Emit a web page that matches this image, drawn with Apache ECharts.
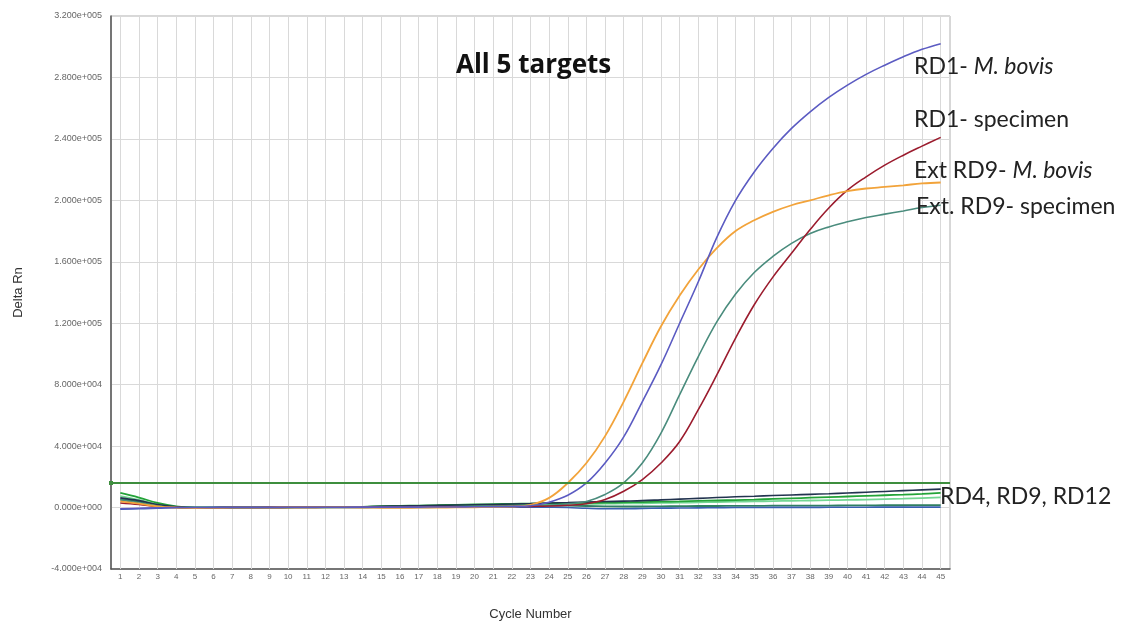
<!DOCTYPE html>
<html>
<head>
<meta charset="utf-8">
<script src="https://cdn.jsdelivr.net/npm/echarts@6/dist/echarts.min.js"></script>
<style>html,body{margin:0;padding:0;background:#fff}#c{width:1124px;height:625px}</style>
</head>
<body>
<div id="c"></div>
<script>
const cycles = Array.from({length: 45}, (_, i) => String(i + 1));
const yTicksMin = -40000, yTicksMax = 320000, yStep = 40000;
const threshold = 16000;

const rd1Bovis = [-800,-500,-200,0,0,100,100,100,100,200,
  200,200,200,300,300,300,300,400,400,500,
  500,700,1200,3500,8000,16000,29000,46000,69000,93000,
  120000,147000,176000,200000,218500,233800,246800,257600,267000,275000,
  282000,288000,293500,298300,302000];
const ext9Bovis = [4000,2500,800,0,-300,-200,-100,0,0,100,
  100,100,100,0,-200,-200,-100,0,100,200,
  300,600,1800,6300,16000,29000,46500,69000,94000,118000,
  138000,155000,169000,180000,187000,192500,196800,200000,203300,206000,
  207700,208700,209800,211000,211600];
const rd1Spec = [3000,2000,600,0,-200,-100,0,0,100,100,
  100,200,200,200,300,300,400,400,500,500,
  600,700,800,1000,1500,2500,5200,10600,18200,29000,
  43000,63700,86500,110300,132000,150000,165500,181000,195000,206600,
  215300,222900,229400,235300,241000];
const ext9Spec = [5000,3000,1000,0,-200,-100,0,100,100,200,
  200,200,300,300,400,400,500,500,600,700,
  800,900,1100,1500,2500,4000,8500,16000,29000,48500,
  73500,98300,121000,139000,153000,163500,172000,178400,182700,186000,
  188800,191000,193100,195300,196800];
const lowNavy = [6300,4500,2000,500,0,0,100,100,100,200,
  200,300,300,400,800,1000,1200,1400,1600,1800,
  2000,2300,2600,3000,3300,3600,3900,4200,4500,5000,
  5500,6000,6500,7000,7400,7800,8200,8600,9000,9500,
  10000,10500,11000,11500,12000];
const lowGreen = [9500,6500,3000,800,0,0,100,100,100,200,
  300,300,400,500,900,1100,1300,1500,1800,2000,
  2200,2400,2600,2800,3000,3100,3200,3400,3600,3800,
  4000,4300,4600,4900,5200,5600,6000,6400,6800,7200,
  7600,8000,8400,8900,9500];
const lowLight = [7500,5000,2200,500,0,0,0,100,100,100,
  200,200,300,300,600,800,1000,1200,1300,1500,
  1700,1800,2000,2100,2300,2400,2500,2700,2800,3000,
  3200,3400,3600,3800,4000,4200,4400,4600,4800,5000,
  5200,5500,5800,6200,6600];
const lowTeal = [5500,3800,1500,300,0,0,0,0,100,100,
  100,100,200,200,500,600,700,800,900,1000,
  1100,1200,1300,1300,1200,1000,800,700,700,800,
  900,1000,1000,1100,1100,1200,1200,1300,1300,1400,
  1400,1500,1500,1600,1600];
const lowBlue = [-1000,-800,-400,0,0,0,0,0,0,0,
  0,0,0,0,100,100,100,200,200,200,
  300,300,300,200,0,-500,-800,-800,-600,-400,
  -300,-200,-100,0,0,100,100,100,200,200,
  200,300,300,300,300];

const chart = echarts.init(document.getElementById('c'));

function fmtExp(v) {
  const s = Number(v).toExponential(3);
  const parts = s.split('e');
  const sign = parts[1][0];
  const digits = parts[1].slice(1).padStart(3, '0');
  return parts[0] + 'e' + sign + digits;
}

function line(name, data, color, width, z) {
  return {
    name: name, type: 'line', data: data, smooth: 0.4, showSymbol: false,
    symbol: 'none', z: z || 3,
    lineStyle: {color: color, width: width || 1.6}, itemStyle: {color: color}
  };
}

const labelFont = 'Lato, "Open Sans", sans-serif';
const labelSize = 23;

const option = {
  animation: false,
  backgroundColor: '#ffffff',
  title: {
    text: 'All 5 targets', left: 451, top: 48,
    textStyle: {fontFamily: '"Open Sans", Lato, sans-serif', fontWeight: 'bold', fontSize: 26, color: '#111'}
  },
  grid: {left: 111, right: 174, top: 16, bottom: 56, outerBoundsMode: 'none', containLabel: false,
    show: true, borderColor: '#b0b0b0', borderWidth: 1, backgroundColor: 'transparent'},
  xAxis: {
    type: 'category', data: cycles, boundaryGap: true,
    name: 'Cycle Number', nameLocation: 'middle', nameGap: 39,
    nameTextStyle: {fontFamily: 'Liberation Sans, Arial, sans-serif', fontSize: 13, color: '#333'},
    axisLine: {show: true, onZero: false, lineStyle: {color: '#555', width: 1.5}},
    axisTick: {show: true, inside: true, alignWithLabel: true, interval: 0, length: 553, lineStyle: {color: '#d9d9d9', width: 1}},
    axisLabel: {interval: 0, fontSize: 8, color: '#666', margin: 4, fontFamily: 'Liberation Sans, Arial, sans-serif'},
    splitLine: {show: false}
  },
  yAxis: {
    type: 'value', min: yTicksMin, max: yTicksMax, interval: yStep,
    name: 'Delta Rn', nameLocation: 'middle', nameGap: 86,
    nameTextStyle: {fontFamily: 'Liberation Sans, Arial, sans-serif', fontSize: 13, color: '#333'},
    axisLine: {show: true, lineStyle: {color: '#555', width: 1.5}},
    axisTick: {show: false},
    axisLabel: {formatter: fmtExp, fontSize: 9, color: '#666', margin: 9, fontFamily: 'Liberation Sans, Arial, sans-serif'},
    splitLine: {show: true, lineStyle: {color: '#d9d9d9', width: 1}}
  },
  series: [
    line('RD4-a', lowTeal, '#2f7f62', 1.8),
    line('RD4-b', lowBlue, '#3a5fb0', 1.6),
    line('RD12', lowLight, '#74d694', 1.8),
    line('RD9', lowGreen, '#23a338', 1.8),
    line('RD4', lowNavy, '#22334f', 1.6),
    line('Ext RD9- specimen', ext9Spec, '#4a8c7d', 1.6, 4),
    line('RD1- specimen', rd1Spec, '#9b1c2e', 1.6, 4),
    line('Ext RD9- M. bovis', ext9Bovis, '#f2a33a', 1.8, 4),
    Object.assign(line('RD1- M. bovis', rd1Bovis, '#5b5bc2', 1.6, 4), {
      markLine: {
        silent: true, symbol: ['rect', 'none'], symbolSize: [4, 4],
        label: {show: false},
        lineStyle: {color: '#3e8e3e', width: 2, type: 'solid'},
        data: [{yAxis: threshold}]
      }
    })
  ],
  graphic: [
    {type: 'text', left: 914, top: 55, z: 10, style: {
      text: '{n|RD1- }{i|M. bovis}', rich: {
        n: {fontFamily: labelFont, fontSize: labelSize, fill: '#222'},
        i: {fontFamily: labelFont, fontSize: labelSize, fontStyle: 'italic', fill: '#222'}}}},
    {type: 'text', left: 914, top: 108, z: 10, style: {
      text: 'RD1- specimen', fontFamily: labelFont, fontSize: labelSize, fill: '#222'}},
    {type: 'text', left: 914, top: 159, z: 10, style: {
      text: '{n|Ext RD9- }{i|M. bovis}', rich: {
        n: {fontFamily: labelFont, fontSize: labelSize, fill: '#222'},
        i: {fontFamily: labelFont, fontSize: labelSize, fontStyle: 'italic', fill: '#222'}}}},
    {type: 'text', left: 916, top: 195, z: 10, style: {
      text: 'Ext. RD9- specimen', fontFamily: labelFont, fontSize: labelSize, fill: '#222'}},
    {type: 'text', left: 940, top: 485, z: 10, style: {
      text: 'RD4, RD9, RD12', fontFamily: labelFont, fontSize: labelSize, fill: '#222'}}
  ]
};
chart.setOption(option);
</script>
</body>
</html>
